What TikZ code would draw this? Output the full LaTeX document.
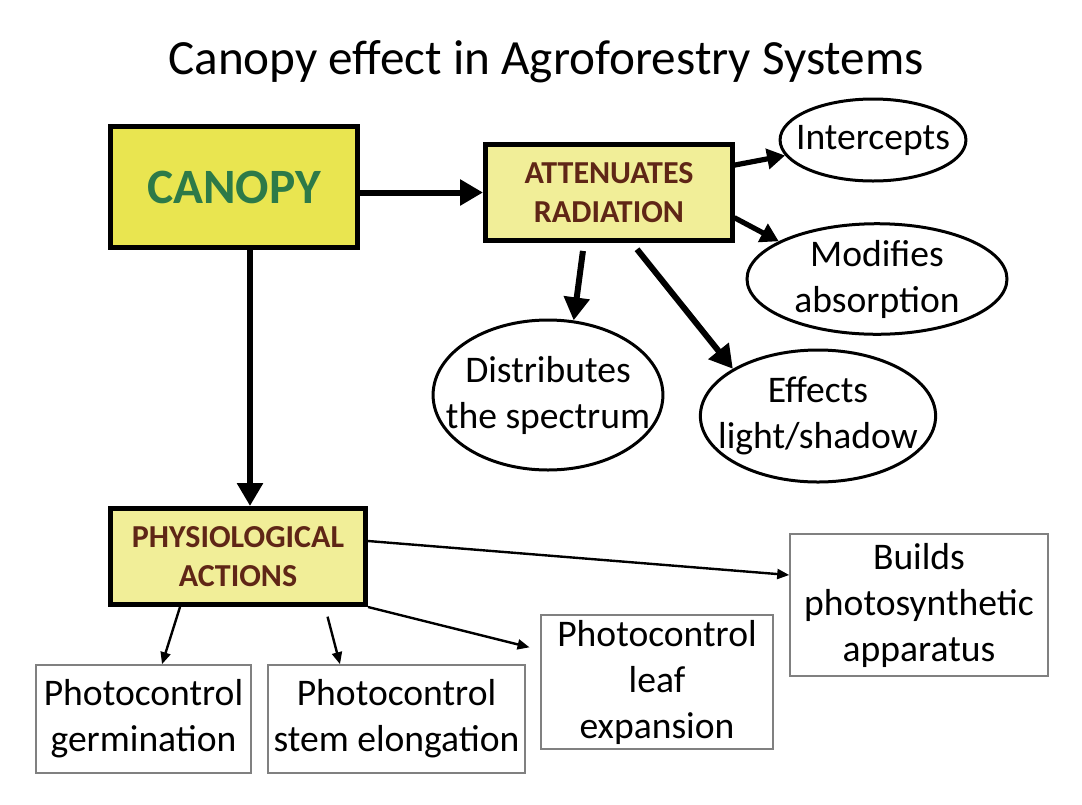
\documentclass[tikz,border=0pt]{standalone}
\usepackage{fontspec}
\setmainfont{Carlito}
\usepackage{xcolor}
\usetikzlibrary{arrows.meta,positioning,shapes}

\definecolor{canopyfill}{RGB}{233,229,80}
\definecolor{actionfill}{RGB}{241,238,152}
\definecolor{canopytext}{RGB}{45,122,72}
\definecolor{actiontext}{RGB}{95,38,22}

\begin{document}
\begin{tikzpicture}[x=0.5pt, y=-0.5pt, >=latex, thick]
    \tikzstyle{canopybox} = [draw, line width=2.6pt, fill=canopyfill, minimum width=123.5pt, minimum height=60.5pt, inner sep=0pt, font=\fontsize{24.7}{29}\selectfont\bfseries, text=canopytext]
    \tikzstyle{action} = [draw, line width=2.5pt, fill=actionfill, inner sep=0pt, align=center, font=\fontsize{16}{19.5}\selectfont\bfseries, text=actiontext]
    \tikzstyle{effect} = [draw, ellipse, line width=1.5pt, inner sep=0pt, align=center, font=\fontsize{18.8}{23}\selectfont]
    \tikzstyle{result} = [draw=gray, line width=0.8pt, inner sep=0pt, align=center, font=\fontsize{18.8}{23}\selectfont]
    \tikzstyle{bigarrow} = [line width=3pt, -{Triangle[length=11.5pt,width=12.5pt]}]
    \tikzstyle{midarrow} = [line width=2.6pt, line cap=round, -{Triangle[length=9pt,width=10pt]}]
    \tikzstyle{thinarrow} = [line width=1.2pt, -{Triangle[length=6pt,width=5pt]}]

    \useasboundingbox (0,0) rectangle (1082,804);

    \node (title) at (546,62) {\fontsize{24.6}{29}\selectfont Canopy effect in Agroforestry Systems};

    \node [canopybox] (canopy) at (234,187) {CANOPY};
    \node [action, minimum width=123.5pt, minimum height=48pt] (atten) at (609,192.5) {ATTENUATES\\RADIATION};
    \node [action, minimum width=127.5pt, minimum height=48pt] (physio) at (238,556.5) {PHYSIOLOGICAL\\ACTIONS};

    \node [effect, inner xsep=-5.6pt, minimum width=91pt, minimum height=41pt] (intercepts) at (873,140) {Intercepts};
    \node [effect, minimum width=130pt, minimum height=54pt] (modifies) at (877,279) {Modifies\\absorption};
    \node [effect, inner xsep=-10.4pt, minimum width=113.5pt, minimum height=75pt] (distributes) at (548,395) {Distributes\\the spectrum};
    \node [effect, inner xsep=-8.3pt, minimum width=116.5pt, minimum height=66pt] (effects) at (818,416) {Effects\\light/shadow};

    \node [result, minimum width=107.5pt, minimum height=54pt] (germ) at (143.5,719) {Photocontrol\\germination};
    \node [result, minimum width=128.5pt, minimum height=54pt] (stem) at (396.5,719) {Photocontrol\\stem elongation};
    \node [result, minimum width=116pt, minimum height=67pt] (leaf) at (657,682) {Photocontrol\\leaf\\expansion};
    \node [result, minimum width=129pt, minimum height=71pt] (builds) at (919,605) {Builds\\photosynthetic\\apparatus};

    % canopy branches
    \draw [bigarrow] (canopy.east |- atten.west) -- (atten.west);
    \draw [bigarrow] ([xshift=8pt]canopy.south) -- ([xshift=6pt]physio.north);

    % radiation effects
    \draw [midarrow] ([yshift=13.75pt]atten.east) -- (intercepts.190);
    \draw [midarrow] ([yshift=-12.75pt]atten.east) -- (modifies.159);
    \draw [bigarrow, shorten <=4pt] ([xshift=-12.5pt]atten.south) -- (distributes.71);
    \draw [bigarrow, shorten <=4pt] ([xshift=11.5pt]atten.south) -- (effects.151);

    % physiological actions
    \draw [thinarrow] ([yshift=7.75pt]physio.east) -- ([yshift=15pt]builds.west);
    \draw [thinarrow] ([xshift=-29pt]physio.south) -- ([xshift=9.25pt]germ.north);
    \draw [thinarrow, shorten <=5pt] ([xshift=43.5pt]physio.south) -- ([xshift=-28.25pt]stem.north);
    \draw [thinarrow, shorten >=5.5pt] (physio.south east) -- ([yshift=16pt]leaf.west);
\end{tikzpicture}
\end{document}
